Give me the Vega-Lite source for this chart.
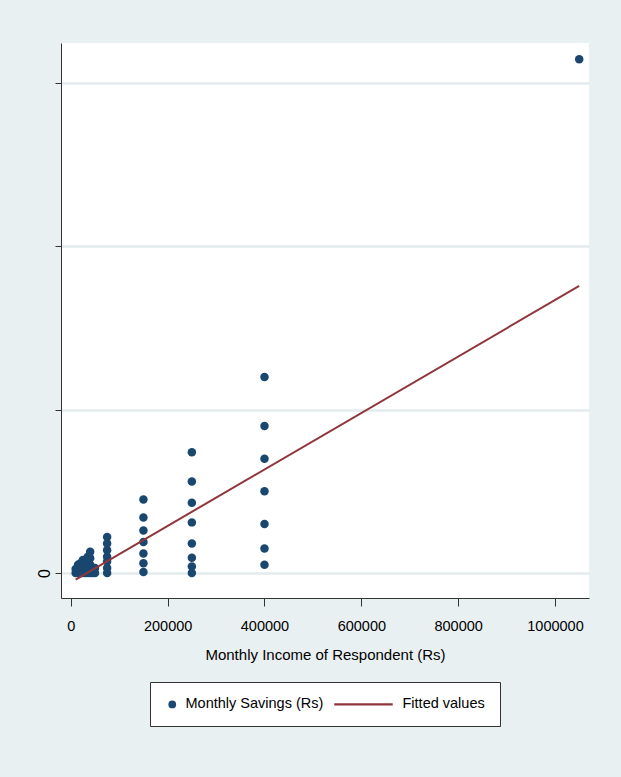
{
  "$schema": "https://vega.github.io/schema/vega-lite/v6.json",
  "width": 528,
  "height": 555,
  "autosize": {"type": "none"},
  "padding": {"left": 61, "top": 43, "right": 32, "bottom": 179},
  "background": "#e9f0f2",
  "config": {
    "view": {"fill": "white", "stroke": null},
    "font": "Liberation Sans",
    "axis": {"labelColor": "black", "titleColor": "black", "tickColor": "#333", "domainColor": "#333", "labelFont": "Liberation Sans", "titleFont": "Liberation Sans"}
  },
  "datasets": {
    "savings": [
      {"income": 10000, "savings": 0, "series": "Monthly Savings (Rs)"},
      {"income": 10000, "savings": 1200, "series": "Monthly Savings (Rs)"},
      {"income": 15000, "savings": 0, "series": "Monthly Savings (Rs)"},
      {"income": 15000, "savings": 1000, "series": "Monthly Savings (Rs)"},
      {"income": 15000, "savings": 2500, "series": "Monthly Savings (Rs)"},
      {"income": 20000, "savings": 0, "series": "Monthly Savings (Rs)"},
      {"income": 20000, "savings": 1500, "series": "Monthly Savings (Rs)"},
      {"income": 20000, "savings": 3000, "series": "Monthly Savings (Rs)"},
      {"income": 25000, "savings": 0, "series": "Monthly Savings (Rs)"},
      {"income": 25000, "savings": 2000, "series": "Monthly Savings (Rs)"},
      {"income": 25000, "savings": 4000, "series": "Monthly Savings (Rs)"},
      {"income": 30000, "savings": 0, "series": "Monthly Savings (Rs)"},
      {"income": 30000, "savings": 1500, "series": "Monthly Savings (Rs)"},
      {"income": 30000, "savings": 3000, "series": "Monthly Savings (Rs)"},
      {"income": 35000, "savings": 0, "series": "Monthly Savings (Rs)"},
      {"income": 35000, "savings": 2000, "series": "Monthly Savings (Rs)"},
      {"income": 35000, "savings": 4000, "series": "Monthly Savings (Rs)"},
      {"income": 35000, "savings": 5000, "series": "Monthly Savings (Rs)"},
      {"income": 40000, "savings": 0, "series": "Monthly Savings (Rs)"},
      {"income": 40000, "savings": 2500, "series": "Monthly Savings (Rs)"},
      {"income": 40000, "savings": 4500, "series": "Monthly Savings (Rs)"},
      {"income": 40000, "savings": 6500, "series": "Monthly Savings (Rs)"},
      {"income": 45000, "savings": 0, "series": "Monthly Savings (Rs)"},
      {"income": 45000, "savings": 1000, "series": "Monthly Savings (Rs)"},
      {"income": 50000, "savings": 0, "series": "Monthly Savings (Rs)"},
      {"income": 50000, "savings": 1500, "series": "Monthly Savings (Rs)"},
      {"income": 75000, "savings": 0, "series": "Monthly Savings (Rs)"},
      {"income": 75000, "savings": 1500, "series": "Monthly Savings (Rs)"},
      {"income": 75000, "savings": 3500, "series": "Monthly Savings (Rs)"},
      {"income": 75000, "savings": 5000, "series": "Monthly Savings (Rs)"},
      {"income": 75000, "savings": 7000, "series": "Monthly Savings (Rs)"},
      {"income": 75000, "savings": 9000, "series": "Monthly Savings (Rs)"},
      {"income": 75000, "savings": 11000, "series": "Monthly Savings (Rs)"},
      {"income": 150000, "savings": 300, "series": "Monthly Savings (Rs)"},
      {"income": 150000, "savings": 3000, "series": "Monthly Savings (Rs)"},
      {"income": 150000, "savings": 6000, "series": "Monthly Savings (Rs)"},
      {"income": 150000, "savings": 9500, "series": "Monthly Savings (Rs)"},
      {"income": 150000, "savings": 13000, "series": "Monthly Savings (Rs)"},
      {"income": 150000, "savings": 17000, "series": "Monthly Savings (Rs)"},
      {"income": 150000, "savings": 22500, "series": "Monthly Savings (Rs)"},
      {"income": 250000, "savings": 0, "series": "Monthly Savings (Rs)"},
      {"income": 250000, "savings": 2000, "series": "Monthly Savings (Rs)"},
      {"income": 250000, "savings": 4700, "series": "Monthly Savings (Rs)"},
      {"income": 250000, "savings": 9000, "series": "Monthly Savings (Rs)"},
      {"income": 250000, "savings": 15500, "series": "Monthly Savings (Rs)"},
      {"income": 250000, "savings": 21500, "series": "Monthly Savings (Rs)"},
      {"income": 250000, "savings": 28000, "series": "Monthly Savings (Rs)"},
      {"income": 250000, "savings": 37000, "series": "Monthly Savings (Rs)"},
      {"income": 400000, "savings": 2500, "series": "Monthly Savings (Rs)"},
      {"income": 400000, "savings": 7500, "series": "Monthly Savings (Rs)"},
      {"income": 400000, "savings": 15000, "series": "Monthly Savings (Rs)"},
      {"income": 400000, "savings": 25000, "series": "Monthly Savings (Rs)"},
      {"income": 400000, "savings": 35000, "series": "Monthly Savings (Rs)"},
      {"income": 400000, "savings": 45000, "series": "Monthly Savings (Rs)"},
      {"income": 400000, "savings": 60000, "series": "Monthly Savings (Rs)"},
      {"income": 1050000, "savings": 157300, "series": "Monthly Savings (Rs)"}
    ],
    "fitted": [
      {"income": 10000, "fit": -2015},
      {"income": 1050000, "fit": 87900}
    ]
  },
  "layer": [
    {
      "data": {"name": "savings"},
      "mark": {"type": "point", "filled": true, "opacity": 1, "size": 72},
      "encoding": {
        "x": {
          "field": "income", "type": "quantitative",
          "scale": {"domain": [-20240, 1070200], "nice": false, "zero": false},
          "axis": {
            "values": [0, 200000, 400000, 600000, 800000, 1000000],
            "format": "d", "grid": false, "tickSize": 8, "labelPadding": 13,
            "labelFontSize": 14.5, "title": "Monthly Income of Respondent (Rs)",
            "titleFontSize": 15, "titleFontWeight": "normal", "titlePadding": 15
          }
        },
        "y": {
          "field": "savings", "type": "quantitative",
          "scale": {"domain": [-7654, 162278], "nice": false, "zero": false},
          "axis": {
            "values": [0, 50000, 100000, 150000],
            "labelExpr": "datum.value == 0 ? '0' : ''",
            "labelAngle": 270, "labelAlign": "center", "labelBaseline": "bottom",
            "labelFontSize": 16, "labelPadding": 3, "tickSize": 6,
            "grid": true, "gridColor": "#e3ebee", "gridWidth": 2.5, "title": null
          }
        },
        "color": {
          "field": "series", "type": "nominal",
          "scale": {"domain": ["Monthly Savings (Rs)", "Fitted values"], "range": ["#1a476f", "#90353b"]},
          "legend": {
            "title": null, "orient": "none", "direction": "horizontal",
            "legendX": 89, "legendY": 639,
            "fillColor": "white", "strokeColor": "#333", "padding": 15,
            "labelFontSize": 14.5, "labelFont": "Liberation Sans", "labelColor": "black",
            "symbolSize": 60, "labelOffset": 6, "columnPadding": 10
          }
        },
        "shape": {
          "field": "series", "type": "nominal",
          "scale": {"domain": ["Monthly Savings (Rs)", "Fitted values"], "range": ["circle", "M-14.2,-0.26H0.9V0.26H-14.2Z"]},
          "legend": {
            "title": null, "orient": "none", "direction": "horizontal",
            "legendX": 89, "legendY": 639,
            "fillColor": "white", "strokeColor": "#333", "padding": 15,
            "labelFontSize": 14.5, "labelFont": "Liberation Sans", "labelColor": "black",
            "symbolSize": 60, "labelOffset": 6, "columnPadding": 10
          }
        }
      }
    },
    {
      "data": {"name": "fitted"},
      "mark": {"type": "line", "color": "#90353b", "strokeWidth": 2},
      "encoding": {
        "x": {"field": "income", "type": "quantitative"},
        "y": {"field": "fit", "type": "quantitative"}
      }
    }
  ]
}
